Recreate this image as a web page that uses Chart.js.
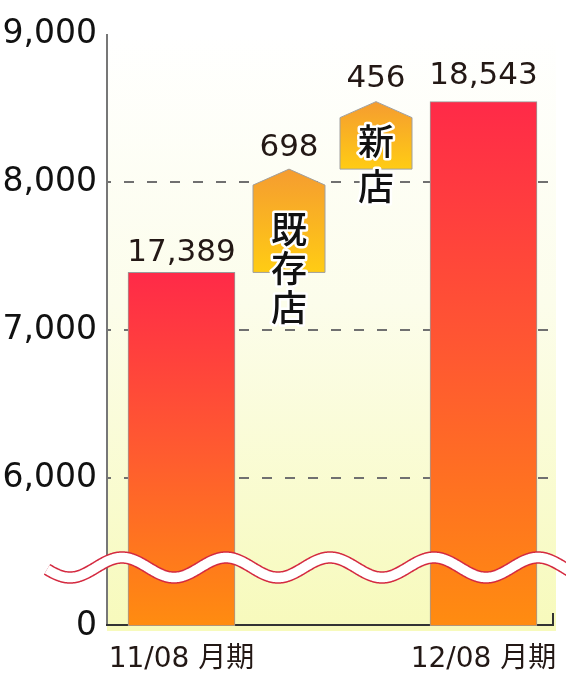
<!DOCTYPE html>
<html><head><meta charset="utf-8">
<script src="https://cdn.jsdelivr.net/npm/chart.js@4"></script>
<style>html,body{margin:0;padding:0;background:#fff;overflow:hidden}#wrap{width:566px;height:677px;position:relative}</style>
</head><body><div id="wrap"><canvas id="c"></canvas></div>
<script>
// ---- data ----
const categories = ['11/08 月期', '', '12/08 月期'];
const totals = [17389, null, 18543];
const stepNames = ['既存店', '新店'];
const stepValues = [698, 456];
const yTickValues = [15000, 16000, 17000, 18000, 19000]; // 15000 = broken-axis bottom, shown as 0
const yTickLabels = ['0', '16,000', '17,000', '18,000', '19,000'];

// ---- style ----
const FONT = "'DejaVu Sans', 'Noto Sans CJK JP', sans-serif";
const CJK = "'Noto Sans CJK JP', sans-serif";
const TEXT = '#231815';
const PLOT_RIGHT = 553;
const houseW = 72, houseShoulder = 16;
const houseTextStart = [60, 40], houseTextGap = [39, 45];
const totalLabelGap = [11, 0, 18], stepLabelGap = [13, 15];

// build step datasets (cumulative waterfall)
let run = totals[0];
const stepDatasets = stepNames.map((name, i) => {
  const lo = run; run += stepValues[i];
  return {
    label: name,
    data: categories.map((c, j) => (j === 1 ? [lo, run] : null)),
    backgroundColor: 'rgba(0,0,0,0)', borderWidth: 0,
    grouped: true, skipNull: true, barThickness: 87
  };
});

function barGradient(ctx) {
  const chart = ctx.chart; const ca = chart.chartArea;
  if (!ca || ctx.raw == null) return 'rgba(0,0,0,0)';
  const top = chart.scales.y.getPixelForValue(ctx.raw);
  const g = chart.ctx.createLinearGradient(0, top, 0, ca.bottom);
  g.addColorStop(0, '#FF2A48'); g.addColorStop(0.5, '#FF5A30'); g.addColorStop(1, '#FF8C10');
  return g;
}

const decor = {
  id: 'decor',
  beforeDatasetsDraw(chart) {
    const {ctx, chartArea: ca} = chart;
    const y = chart.scales.y;
    ctx.save();
    const bg = ctx.createLinearGradient(0, ca.top, 0, ca.bottom + 5);
    bg.addColorStop(0, '#FFFFFF'); bg.addColorStop(0.45, '#FCFDEB'); bg.addColorStop(1, '#F7FABB');
    ctx.fillStyle = bg;
    ctx.fillRect(ca.left + 1, ca.top, PLOT_RIGHT + 2 - ca.left, ca.bottom - ca.top + 5);
    // dashed grid
    ctx.strokeStyle = '#707070'; ctx.lineWidth = 2;
    ctx.setLineDash([10, 13]); ctx.lineDashOffset = 5;
    yTickValues.forEach(v => {
      if (v === yTickValues[0] || v === yTickValues[yTickValues.length - 1]) return;
      const py = Math.round(y.getPixelForValue(v));
      ctx.beginPath(); ctx.moveTo(ca.left, py); ctx.lineTo(PLOT_RIGHT, py); ctx.stroke();
    });
    ctx.setLineDash([]);
    // y axis
    ctx.strokeStyle = '#777'; ctx.lineWidth = 2;
    ctx.beginPath(); ctx.moveTo(ca.left + 1, ca.top); ctx.lineTo(ca.left + 1, ca.bottom); ctx.stroke();
    // bottom axis
    ctx.strokeStyle = '#333';
    ctx.beginPath(); ctx.moveTo(ca.left, ca.bottom - 1); ctx.lineTo(PLOT_RIGHT, ca.bottom - 1); ctx.lineTo(PLOT_RIGHT, ca.bottom - 13); ctx.stroke();
    ctx.restore();
  },
  afterDatasetsDraw(chart) {
    const {ctx} = chart;
    const y = chart.scales.y;
    ctx.save();
    // houses
    stepDatasets.forEach((ds, k) => {
      const el = chart.getDatasetMeta(k + 1).data[1];
      const cx = el.x, top = el.y, bot = el.base;
      const l = cx - houseW / 2, r = cx + houseW / 2;
      const g = ctx.createLinearGradient(0, top, 0, bot);
      g.addColorStop(0, '#F59C30'); g.addColorStop(1, '#FFCC14');
      ctx.beginPath();
      ctx.moveTo(l, bot); ctx.lineTo(l, top + houseShoulder); ctx.lineTo(cx, top);
      ctx.lineTo(r, top + houseShoulder); ctx.lineTo(r, bot); ctx.closePath();
      ctx.fillStyle = g; ctx.fill();
      ctx.strokeStyle = '#A0A0A0'; ctx.lineWidth = 1; ctx.stroke();
    });
    // wave break
    const yc = y.getPixelForValue(yTickValues[0]) - 58.5;
    ctx.beginPath();
    for (let x = 47; x <= 575; x += 1) {
      const yy = yc - 10 * Math.cos(2 * Math.PI * (x - 330) / 104);
      if (x === 47) ctx.moveTo(x, yy); else ctx.lineTo(x, yy);
    }
    ctx.lineCap = 'butt'; ctx.lineJoin = 'round';
    ctx.strokeStyle = '#D42A40'; ctx.lineWidth = 12.5; ctx.stroke();
    ctx.strokeStyle = '#FFFFFF'; ctx.lineWidth = 9.5; ctx.stroke();
    // value labels
    ctx.fillStyle = TEXT; ctx.textAlign = 'center'; ctx.textBaseline = 'alphabetic';
    ctx.font = '31px ' + FONT;
    chart.getDatasetMeta(0).data.forEach((el, i) => {
      if (totals[i] == null) return;
      ctx.fillText(totals[i].toLocaleString('en-US'), el.x, el.y - totalLabelGap[i]);
    });
    stepDatasets.forEach((ds, k) => {
      const el = chart.getDatasetMeta(k + 1).data[1];
      ctx.fillText(stepValues[k].toLocaleString('en-US'), el.x, el.y - stepLabelGap[k]);
    });
    // vertical names
    ctx.font = '500 36px ' + CJK; ctx.textBaseline = 'middle';
    ctx.lineJoin = 'round';
    stepNames.forEach((name, k) => {
      const el = chart.getDatasetMeta(k + 1).data[1];
      [...name].forEach((ch, j) => {
        const py = el.y + houseTextStart[k] + j * houseTextGap[k];
        ctx.strokeStyle = '#FFFFFF'; ctx.lineWidth = 5; ctx.strokeText(ch, el.x, py);
        ctx.fillStyle = '#111'; ctx.fillText(ch, el.x, py);
      });
    });
    ctx.restore();
  }
};

new Chart(document.getElementById('c'), {
  type: 'bar',
  data: {
    labels: categories,
    datasets: [{
      label: '売上',
      data: totals,
      base: yTickValues[0],
      grouped: false,
      barThickness: 107, maxBarThickness: 107,
      backgroundColor: barGradient,
      borderColor: '#9A9A9A', borderWidth: 1, borderSkipped: false
    }, ...stepDatasets]
  },
  options: {
    responsive: true, maintainAspectRatio: false, animation: false,
    layout: { padding: { top: 34, right: 7, left: 0, bottom: 0 } },
    plugins: { legend: { display: false }, tooltip: { enabled: false } },
    scales: {
      x: {
        offset: true,
        grid: { display: false, drawTicks: false }, border: { display: false },
        ticks: { color: TEXT, font: { family: FONT, size: 28 }, padding: 17, maxRotation: 0, autoSkip: false },
        afterFit(s) { s.height = 51; s.paddingLeft = 0; s.paddingRight = 0; }
      },
      y: {
        min: yTickValues[0], max: yTickValues[yTickValues.length - 1],
        grid: { display: false, drawTicks: false }, border: { display: false },
        afterBuildTicks(s) { s.ticks = yTickValues.map(v => ({ value: v })); },
        ticks: {
          color: '#111', font: { family: FONT, size: 33 }, padding: 9,
          callback: (v) => yTickLabels[yTickValues.indexOf(v)]
        },
        afterFit(s) { s.width = 106; s.paddingTop = 0; s.paddingBottom = 0; }
      }
    }
  },
  plugins: [decor]
});
</script>
</body></html>
